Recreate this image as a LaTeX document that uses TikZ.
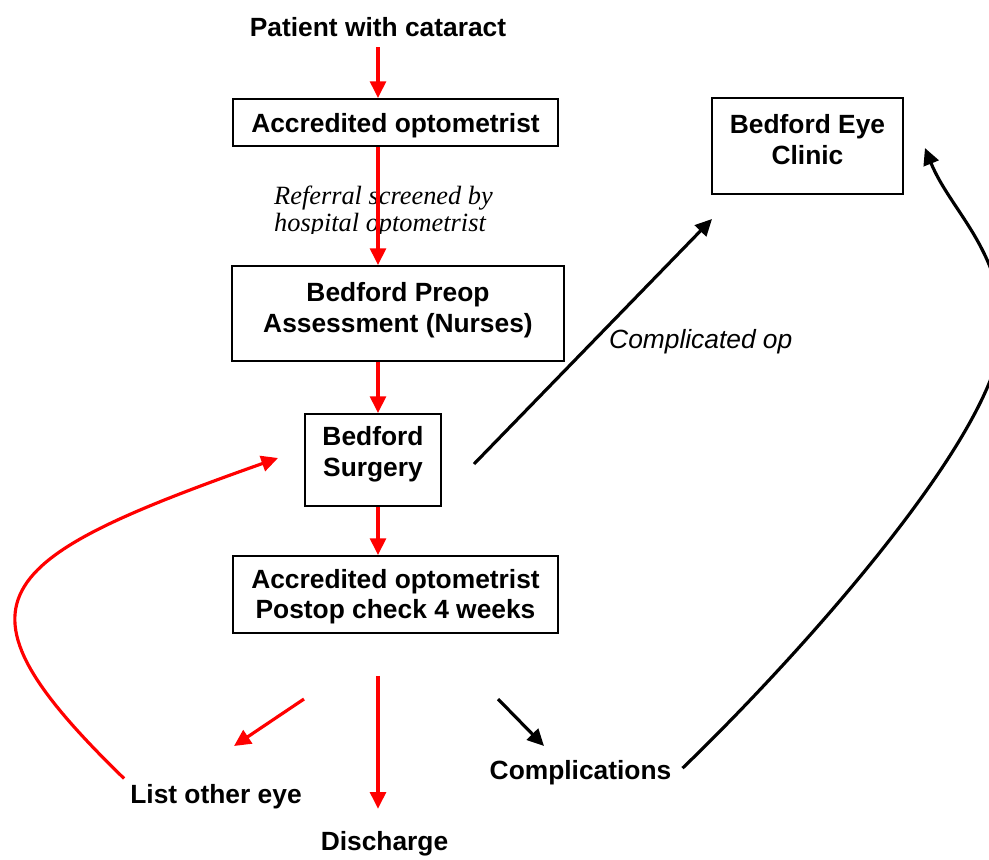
\documentclass[tikz,border=0pt]{standalone}
\usepackage{fontspec}
\setmainfont{Liberation Sans}
\newfontfamily\refserif{Liberation Serif}
\usetikzlibrary{arrows.meta,calc}
\newcommand{\dstrut}[1]{\rule[-#1]{0pt}{#1}}
\newcommand{\hstrut}[1]{\rule{0pt}{#1}}

\begin{document}
\begin{tikzpicture}[x=0.02cm,y=-0.02cm,
	box/.style={draw,line width=1.1pt,align=center,inner sep=0pt,
		font=\fontsize{15}{17.5}\selectfont\bfseries},
	lbl/.style={font=\fontsize{15}{17.5}\selectfont\bfseries},
	redarrow/.style={draw=red,line width=1.8pt,-{Triangle[length=9.5pt,width=9pt]}},
	blackarrow/.style={draw=black,line width=1.8pt,-{Triangle[length=9.5pt,width=9pt]}}]
	\useasboundingbox (0,0) rectangle (989,859);

	\node[lbl] (patient) at (378,27) {Patient with cataract};
	\node[box,minimum width=6.5cm,minimum height=0.94cm] (acc) at (395.5,122.5) {\hstrut{14.4pt}Accredited optometrist};
	\node[box,minimum width=6.64cm,minimum height=1.9cm] (pre) at (398,313.5) {Bedford Preop\\Assessment (Nurses)\dstrut{7.2pt}};
	\node[box,minimum width=2.72cm,minimum height=1.84cm] (surg) at (373,460) {Bedford\\Surgery\dstrut{10pt}};
	\node[box,minimum width=6.5cm,minimum height=1.54cm] (post) at (395.5,594.5) {\hstrut{13.3pt}Accredited optometrist\\Postop check 4 weeks};
	\node[box,minimum width=3.82cm,minimum height=1.92cm] (clinic) at (807.5,146) {Bedford Eye\\Clinic\dstrut{7.7pt}};
	\node[lbl] (list) at (216,797) {List other eye};
	\node[lbl] (discharge) at (384.5,844) {Discharge};
	\node[lbl] (compl) at (580.5,773) {Complications};

	% screening note, cut off at the bottom
	\begin{scope}
		\clip (250,170) rectangle (520,233);
		\node[align=left,font=\fontsize{15}{15.5}\selectfont\refserif\itshape] (screen) at (383.5,211.5) {Referral screened by\\hospital optometrist};
	\end{scope}

	\coordinate (listfrom) at (304,699);
	\coordinate (listto) at (234,746);
	\coordinate (complfrom) at (498,699);
	\coordinate (complto) at (544,746);
	\coordinate (opfrom) at (474,464);
	\coordinate (opto) at (712,219);

	\draw [redarrow,shorten <=2.5pt] (patient.south) -- (patient |- acc.north);
	\draw [redarrow] (patient |- acc.south) -- (patient |- pre.north);
	\draw [redarrow] (patient |- pre.south) -- (patient |- surg.north);
	\draw [redarrow] (patient |- surg.south) -- (patient |- post.north);

	\draw [redarrow,shorten <=23.8pt,shorten >=9.5pt] (patient |- post.south) -- (patient |- discharge.north);
	\draw [redarrow] (listfrom) -- (listto);
	\draw [blackarrow] (complfrom) -- (complto);

	\draw [blackarrow] (opfrom) -- node[pos=0.5,anchor=west,xshift=5pt,font=\fontsize{15}{17.5}\selectfont\itshape] (oplabel) {Complicated op} (opto);

	\draw [redarrow] (list.north west) .. controls (-60,600) and (-10,560) .. ($(surg.west)+(-26,-2)$);
	\draw [blackarrow,shorten <=4pt] (compl.east) .. controls (800,655) and (1002,430) .. (1002,330)
		.. controls (1002,250) and (950,210) .. ($(clinic.east)+(21,2)$);
\end{tikzpicture}
\end{document}
